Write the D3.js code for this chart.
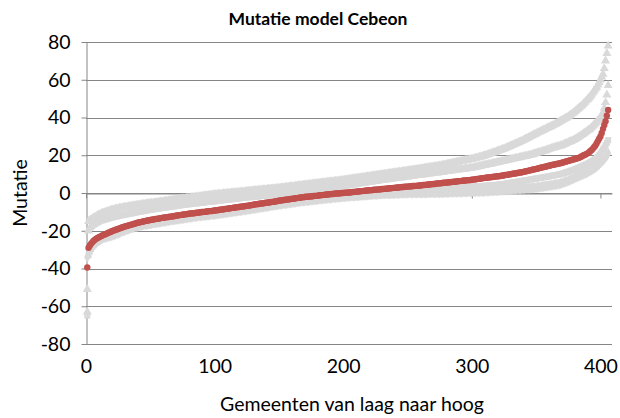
<!DOCTYPE html>
<html><head><meta charset="utf-8">
<script src="https://cdn.jsdelivr.net/npm/d3@7/dist/d3.min.js"></script>
<style>
body{margin:0;background:#fff}
svg{display:block}
text{font-family:Lato,"Open Sans",sans-serif;fill:#000}
</style>
</head><body>
<svg id="chart" width="620" height="418"></svg>
<script>
const chartTitle = "Mutatie model Cebeon";
const xTitle = "Gemeenten van laag naar hoog";
const yTitle = "Mutatie";
const xTicks = [0, 100, 200, 300, 400];
const yTicks = [-80, -60, -40, -20, 0, 20, 40, 60, 80];

// Mutatie model Cebeon (red), municipalities sorted from low to high
const mutatie = [
-39.5,-29.0,-27.8,-26.8,-26.0,-25.3,-24.7,-24.2,-23.8,-23.4,
-23.1,-22.8,-22.4,-22.1,-21.8,-21.5,-21.2,-20.9,-20.6,-20.3,
-20.0,-19.8,-19.5,-19.3,-19.0,-18.8,-18.5,-18.3,-18.0,-17.8,
-17.6,-17.4,-17.2,-17.0,-16.8,-16.6,-16.4,-16.2,-16.0,-15.8,
-15.6,-15.5,-15.3,-15.2,-15.0,-14.9,-14.7,-14.6,-14.4,-14.3,
-14.2,-14.1,-13.9,-13.8,-13.7,-13.6,-13.5,-13.3,-13.2,-13.1,
-13.0,-12.9,-12.8,-12.7,-12.6,-12.5,-12.4,-12.3,-12.2,-12.0,
-11.9,-11.8,-11.7,-11.6,-11.5,-11.4,-11.3,-11.2,-11.1,-11.0,
-10.9,-10.8,-10.7,-10.7,-10.6,-10.5,-10.4,-10.3,-10.2,-10.1,
-10.1,-10.0,-9.9,-9.8,-9.7,-9.6,-9.6,-9.5,-9.4,-9.3,
-9.2,-9.1,-9.0,-8.9,-8.8,-8.7,-8.6,-8.5,-8.4,-8.3,
-8.2,-8.1,-8.0,-7.9,-7.8,-7.7,-7.6,-7.5,-7.4,-7.3,
-7.2,-7.1,-7.0,-6.9,-6.8,-6.7,-6.6,-6.5,-6.4,-6.2,
-6.1,-6.0,-5.9,-5.8,-5.7,-5.6,-5.5,-5.4,-5.3,-5.2,
-5.1,-5.0,-4.9,-4.8,-4.7,-4.6,-4.5,-4.4,-4.2,-4.1,
-4.0,-3.9,-3.8,-3.7,-3.6,-3.5,-3.4,-3.3,-3.2,-3.1,
-3.0,-2.9,-2.8,-2.7,-2.6,-2.5,-2.4,-2.3,-2.2,-2.1,
-2.0,-2.0,-1.9,-1.9,-1.8,-1.7,-1.6,-1.5,-1.5,-1.4,
-1.3,-1.2,-1.1,-1.1,-1.0,-0.9,-0.8,-0.8,-0.7,-0.6,
-0.5,-0.5,-0.4,-0.3,-0.3,-0.2,-0.1,-0.1,0.0,0.0,
0.1,0.2,0.2,0.3,0.3,0.4,0.5,0.5,0.6,0.7,
0.8,0.8,0.9,1.0,1.0,1.1,1.2,1.3,1.3,1.4,
1.5,1.5,1.6,1.7,1.7,1.8,1.9,1.9,2.0,2.1,
2.1,2.2,2.3,2.3,2.4,2.5,2.5,2.6,2.7,2.7,
2.8,2.9,2.9,3.0,3.1,3.2,3.2,3.3,3.4,3.4,
3.5,3.5,3.6,3.7,3.7,3.8,3.8,3.9,4.0,4.0,
4.1,4.2,4.2,4.3,4.4,4.5,4.5,4.6,4.7,4.8,
4.8,4.9,5.0,5.1,5.1,5.2,5.3,5.4,5.4,5.5,
5.6,5.7,5.7,5.8,5.9,6.0,6.0,6.1,6.2,6.3,
6.3,6.4,6.5,6.6,6.6,6.7,6.8,6.8,6.9,7.0,
7.1,7.2,7.3,7.4,7.5,7.6,7.7,7.8,7.9,8.0,
8.1,8.2,8.2,8.3,8.4,8.5,8.6,8.7,8.8,8.9,
8.9,9.0,9.1,9.2,9.4,9.5,9.6,9.7,9.8,10.0,
10.1,10.2,10.3,10.4,10.5,10.7,10.8,10.9,11.0,11.2,
11.3,11.5,11.6,11.8,12.0,12.1,12.3,12.5,12.6,12.8,
12.9,13.1,13.3,13.5,13.6,13.8,13.9,14.1,14.3,14.5,
14.6,14.8,14.9,15.1,15.2,15.4,15.5,15.7,15.8,16.0,
16.2,16.4,16.6,16.8,17.0,17.2,17.4,17.6,17.8,18.0,
18.2,18.4,18.6,18.9,19.2,19.6,20.0,20.3,20.6,21.0,
21.5,22.1,22.7,23.4,24.2,25.0,26.2,27.5,28.8,30.0,
31.8,34.0,36.0,38.0,41.0,44.0
];

// grey comparison series (each sorted low to high)
const grey1 = [
-63.0,-15.0,-14.5,-14.0,-13.5,-13.1,-12.7,-12.3,-11.9,-11.5,
-11.2,-10.9,-10.6,-10.4,-10.2,-9.9,-9.7,-9.5,-9.2,-9.0,
-8.8,-8.7,-8.5,-8.3,-8.2,-8.0,-7.9,-7.8,-7.6,-7.5,
-7.4,-7.3,-7.1,-7.0,-6.9,-6.8,-6.7,-6.6,-6.5,-6.4,
-6.3,-6.2,-6.1,-6.0,-5.9,-5.8,-5.7,-5.6,-5.5,-5.4,
-5.3,-5.3,-5.2,-5.1,-5.0,-4.9,-4.8,-4.7,-4.6,-4.5,
-4.4,-4.3,-4.2,-4.1,-4.0,-3.9,-3.8,-3.7,-3.6,-3.5,
-3.4,-3.3,-3.2,-3.1,-3.0,-3.0,-2.9,-2.8,-2.7,-2.6,
-2.5,-2.4,-2.3,-2.2,-2.1,-2.0,-2.0,-1.9,-1.8,-1.7,
-1.6,-1.5,-1.4,-1.3,-1.2,-1.2,-1.1,-1.0,-0.9,-0.8,
-0.7,-0.7,-0.6,-0.5,-0.5,-0.4,-0.3,-0.3,-0.2,-0.1,
-0.1,0.0,0.1,0.1,0.2,0.3,0.3,0.4,0.5,0.5,
0.6,0.7,0.7,0.8,0.9,1.0,1.0,1.1,1.2,1.3,
1.3,1.4,1.5,1.5,1.6,1.7,1.7,1.8,1.9,1.9,
2.0,2.1,2.1,2.2,2.3,2.3,2.4,2.5,2.5,2.6,
2.7,2.8,2.9,2.9,3.0,3.1,3.2,3.3,3.4,3.5,
3.5,3.6,3.7,3.8,3.9,4.0,4.0,4.1,4.2,4.3,
4.4,4.5,4.5,4.6,4.7,4.8,4.9,5.0,5.0,5.1,
5.2,5.3,5.4,5.5,5.5,5.6,5.7,5.8,5.9,6.0,
6.0,6.1,6.2,6.3,6.4,6.4,6.5,6.6,6.7,6.8,
6.9,7.0,7.1,7.2,7.3,7.4,7.5,7.6,7.7,7.8,
7.9,8.0,8.1,8.2,8.3,8.4,8.5,8.6,8.7,8.8,
8.9,9.0,9.1,9.2,9.3,9.4,9.5,9.6,9.7,9.8,
9.9,10.0,10.1,10.2,10.3,10.4,10.5,10.6,10.7,10.8,
10.9,11.0,11.1,11.2,11.3,11.4,11.5,11.6,11.7,11.8,
11.9,12.0,12.1,12.2,12.3,12.4,12.5,12.6,12.7,12.8,
12.9,13.0,13.2,13.3,13.4,13.5,13.6,13.7,13.8,13.9,
14.0,14.1,14.2,14.3,14.4,14.6,14.7,14.8,15.0,15.1,
15.3,15.4,15.6,15.7,15.8,16.0,16.1,16.3,16.4,16.6,
16.7,16.8,17.0,17.1,17.3,17.4,17.6,17.7,17.8,18.0,
18.1,18.3,18.5,18.7,18.8,19.0,19.2,19.4,19.6,19.8,
20.0,20.2,20.5,20.7,21.0,21.2,21.4,21.7,21.9,22.2,
22.4,22.7,22.9,23.2,23.4,23.7,24.0,24.3,24.6,24.9,
25.2,25.5,25.8,26.1,26.4,26.7,27.0,27.3,27.6,28.0,
28.3,28.7,29.0,29.4,29.7,30.1,30.4,30.8,31.1,31.5,
31.8,32.2,32.5,32.8,33.2,33.5,33.8,34.2,34.5,34.8,
35.2,35.5,35.8,36.2,36.5,36.9,37.3,37.7,38.1,38.5,
38.9,39.3,39.7,40.0,40.5,41.0,41.5,42.0,42.5,43.1,
43.7,44.3,44.9,45.5,46.0,46.7,47.4,48.1,48.9,49.6,
50.3,51.0,52.0,53.0,54.0,55.0,56.0,57.3,58.6,60.0,
61.5,63.0,66.0,70.0,74.0,78.0
];

const grey2 = [
-51.0,-20.0,-18.5,-17.7,-17.0,-16.6,-16.2,-15.8,-15.4,-15.0,
-14.8,-14.6,-14.4,-14.2,-14.0,-13.8,-13.6,-13.4,-13.2,-13.0,
-12.9,-12.7,-12.6,-12.4,-12.3,-12.1,-12.0,-11.9,-11.7,-11.6,
-11.4,-11.3,-11.1,-11.0,-10.9,-10.7,-10.6,-10.5,-10.3,-10.2,
-10.1,-10.0,-9.8,-9.7,-9.6,-9.5,-9.4,-9.2,-9.1,-9.0,
-8.9,-8.8,-8.7,-8.6,-8.5,-8.4,-8.3,-8.2,-8.1,-8.0,
-7.9,-7.8,-7.7,-7.6,-7.5,-7.4,-7.3,-7.2,-7.1,-7.0,
-6.9,-6.8,-6.7,-6.6,-6.5,-6.4,-6.3,-6.2,-6.1,-6.1,
-6.0,-5.9,-5.8,-5.8,-5.7,-5.6,-5.5,-5.4,-5.4,-5.3,
-5.2,-5.1,-5.0,-5.0,-4.9,-4.8,-4.7,-4.7,-4.6,-4.5,
-4.4,-4.3,-4.3,-4.2,-4.1,-4.0,-3.9,-3.9,-3.8,-3.7,
-3.6,-3.5,-3.5,-3.4,-3.3,-3.2,-3.1,-3.1,-3.0,-2.9,
-2.8,-2.7,-2.7,-2.6,-2.5,-2.4,-2.4,-2.3,-2.2,-2.2,
-2.1,-2.0,-2.0,-1.9,-1.8,-1.8,-1.7,-1.7,-1.6,-1.5,
-1.5,-1.4,-1.3,-1.3,-1.2,-1.1,-1.1,-1.0,-0.9,-0.9,
-0.8,-0.7,-0.6,-0.5,-0.4,-0.3,-0.2,-0.1,0.0,0.1,
0.2,0.3,0.4,0.5,0.6,0.7,0.8,0.9,1.0,1.1,
1.2,1.3,1.3,1.4,1.5,1.6,1.7,1.8,1.8,1.9,
2.0,2.1,2.2,2.3,2.3,2.4,2.5,2.6,2.7,2.8,
2.8,2.9,3.0,3.1,3.2,3.3,3.3,3.4,3.5,3.6,
3.7,3.8,3.9,4.0,4.1,4.2,4.3,4.5,4.6,4.7,
4.8,4.9,5.0,5.1,5.2,5.3,5.4,5.5,5.6,5.7,
5.8,5.9,6.0,6.1,6.2,6.3,6.4,6.5,6.7,6.8,
6.9,6.9,7.0,7.1,7.2,7.3,7.4,7.5,7.6,7.7,
7.8,7.9,7.9,8.0,8.1,8.2,8.3,8.4,8.5,8.6,
8.7,8.8,8.9,9.0,9.1,9.2,9.3,9.4,9.5,9.5,
9.6,9.7,9.8,9.9,10.0,10.1,10.2,10.3,10.4,10.5,
10.5,10.6,10.7,10.8,10.9,11.0,11.1,11.2,11.3,11.4,
11.5,11.6,11.7,11.8,11.9,12.0,12.1,12.2,12.3,12.4,
12.5,12.6,12.6,12.7,12.8,12.9,13.0,13.1,13.2,13.3,
13.4,13.6,13.7,13.9,14.0,14.2,14.3,14.5,14.6,14.8,
14.9,15.1,15.2,15.3,15.5,15.6,15.8,15.9,16.1,16.2,
16.4,16.5,16.7,16.8,17.0,17.1,17.3,17.5,17.6,17.8,
17.9,18.1,18.2,18.4,18.5,18.7,18.8,19.0,19.1,19.3,
19.4,19.6,19.7,19.9,20.0,20.2,20.4,20.6,20.9,21.1,
21.3,21.5,21.7,21.9,22.1,22.3,22.5,22.7,23.0,23.2,
23.5,23.7,23.9,24.1,24.3,24.5,24.7,24.8,25.0,25.3,
25.6,25.9,26.2,26.5,26.8,27.1,27.4,27.7,28.0,28.4,
28.8,29.2,29.7,30.1,30.6,31.0,31.5,32.0,32.5,33.0,
33.5,34.0,34.7,35.4,36.1,36.8,37.5,38.3,39.1,40.0,
41.2,42.5,45.0,48.0,52.0,57.0
];

const grey3 = [
-65.0,-33.0,-31.0,-29.7,-28.5,-27.8,-27.1,-26.5,-26.0,-25.5,
-25.0,-24.5,-24.2,-23.9,-23.6,-23.3,-23.0,-22.7,-22.5,-22.2,
-21.9,-21.6,-21.3,-21.0,-20.8,-20.5,-20.2,-19.9,-19.6,-19.4,
-19.1,-18.8,-18.6,-18.3,-18.1,-17.9,-17.7,-17.5,-17.3,-17.1,
-16.9,-16.8,-16.6,-16.5,-16.3,-16.2,-16.1,-16.0,-15.9,-15.8,
-15.7,-15.5,-15.4,-15.3,-15.2,-15.1,-15.0,-14.8,-14.7,-14.6,
-14.5,-14.4,-14.3,-14.2,-14.0,-13.9,-13.8,-13.7,-13.6,-13.5,
-13.4,-13.3,-13.2,-13.1,-13.0,-12.9,-12.8,-12.7,-12.6,-12.5,
-12.4,-12.3,-12.2,-12.1,-12.0,-11.9,-11.8,-11.7,-11.7,-11.6,
-11.5,-11.4,-11.3,-11.2,-11.2,-11.1,-11.0,-10.9,-10.9,-10.8,
-10.7,-10.6,-10.5,-10.4,-10.3,-10.2,-10.1,-10.0,-9.9,-9.8,
-9.7,-9.6,-9.5,-9.4,-9.3,-9.2,-9.1,-9.0,-8.9,-8.8,
-8.7,-8.6,-8.5,-8.4,-8.3,-8.2,-8.1,-8.0,-7.9,-7.8,
-7.7,-7.6,-7.5,-7.3,-7.2,-7.1,-7.0,-6.9,-6.8,-6.7,
-6.6,-6.5,-6.4,-6.2,-6.1,-6.0,-5.9,-5.8,-5.7,-5.6,
-5.5,-5.4,-5.3,-5.2,-5.1,-5.0,-4.9,-4.8,-4.7,-4.6,
-4.5,-4.4,-4.3,-4.2,-4.1,-4.0,-3.9,-3.8,-3.7,-3.7,
-3.6,-3.5,-3.4,-3.4,-3.3,-3.2,-3.1,-3.1,-3.0,-2.9,
-2.8,-2.8,-2.7,-2.6,-2.5,-2.5,-2.4,-2.3,-2.2,-2.2,
-2.1,-2.0,-2.0,-1.9,-1.8,-1.8,-1.7,-1.6,-1.6,-1.5,
-1.4,-1.4,-1.3,-1.2,-1.2,-1.1,-1.0,-1.0,-0.9,-0.8,
-0.8,-0.7,-0.6,-0.6,-0.5,-0.4,-0.4,-0.3,-0.2,-0.2,
-0.1,0.0,0.0,0.1,0.2,0.2,0.3,0.3,0.4,0.5,
0.5,0.6,0.6,0.7,0.7,0.8,0.8,0.9,1.0,1.0,
1.1,1.1,1.2,1.2,1.3,1.3,1.4,1.5,1.5,1.6,
1.6,1.7,1.7,1.8,1.8,1.9,1.9,2.0,2.0,2.0,
2.1,2.1,2.2,2.2,2.2,2.3,2.3,2.3,2.4,2.4,
2.4,2.5,2.5,2.5,2.6,2.6,2.6,2.7,2.7,2.7,
2.8,2.8,2.8,2.9,2.9,2.9,3.0,3.0,3.0,3.1,
3.1,3.1,3.2,3.2,3.2,3.3,3.3,3.3,3.3,3.4,
3.4,3.4,3.4,3.5,3.5,3.5,3.6,3.7,3.7,3.8,
3.9,3.9,4.0,4.0,4.1,4.2,4.2,4.3,4.3,4.4,
4.5,4.5,4.6,4.7,4.8,4.9,5.0,5.1,5.2,5.4,
5.5,5.6,5.7,5.8,5.9,6.0,6.1,6.3,6.4,6.5,
6.6,6.7,6.8,6.9,7.1,7.2,7.3,7.4,7.5,7.7,
7.8,7.9,8.0,8.1,8.2,8.4,8.5,8.6,8.7,8.8,
9.0,9.1,9.2,9.4,9.5,9.6,9.7,9.9,10.0,10.2,
10.4,10.6,10.9,11.1,11.3,11.5,11.8,12.0,12.2,12.5,
12.8,13.1,13.4,13.7,14.0,14.3,14.6,14.9,15.2,15.5,
15.9,16.3,16.7,17.1,17.5,18.0,18.6,19.2,20.0,21.0,
22.0,23.0,24.0,25.3,26.6,28.0
];

const grey4 = [
-34.0,-30.0,-29.0,-28.0,-27.0,-26.5,-26.0,-25.5,-25.1,-24.7,
-24.4,-24.1,-23.9,-23.7,-23.5,-23.3,-23.1,-22.9,-22.7,-22.6,
-22.4,-22.1,-21.8,-21.5,-21.3,-21.0,-20.7,-20.4,-20.1,-19.9,
-19.6,-19.3,-19.1,-18.8,-18.6,-18.4,-18.2,-18.0,-17.8,-17.6,
-17.4,-17.3,-17.1,-17.0,-16.8,-16.7,-16.6,-16.5,-16.4,-16.3,
-16.2,-16.0,-15.9,-15.8,-15.7,-15.6,-15.5,-15.3,-15.2,-15.1,
-15.0,-14.9,-14.8,-14.7,-14.5,-14.4,-14.3,-14.2,-14.1,-14.0,
-13.9,-13.8,-13.7,-13.6,-13.5,-13.4,-13.3,-13.2,-13.1,-13.0,
-12.9,-12.8,-12.7,-12.6,-12.5,-12.4,-12.3,-12.2,-12.2,-12.1,
-12.0,-11.9,-11.8,-11.7,-11.7,-11.6,-11.5,-11.4,-11.4,-11.3,
-11.2,-11.1,-11.0,-10.9,-10.8,-10.7,-10.6,-10.5,-10.4,-10.3,
-10.2,-10.1,-10.0,-9.9,-9.8,-9.7,-9.6,-9.5,-9.4,-9.3,
-9.2,-9.1,-9.0,-8.9,-8.8,-8.7,-8.6,-8.5,-8.4,-8.3,
-8.2,-8.1,-8.0,-7.8,-7.7,-7.6,-7.5,-7.4,-7.3,-7.2,
-7.1,-7.0,-6.9,-6.7,-6.6,-6.5,-6.4,-6.3,-6.2,-6.1,
-6.0,-5.9,-5.8,-5.7,-5.6,-5.5,-5.4,-5.3,-5.2,-5.1,
-5.0,-4.9,-4.8,-4.7,-4.6,-4.5,-4.4,-4.3,-4.2,-4.2,
-4.1,-4.0,-3.9,-3.9,-3.8,-3.7,-3.6,-3.6,-3.5,-3.4,
-3.3,-3.3,-3.2,-3.1,-3.0,-3.0,-2.9,-2.8,-2.7,-2.7,
-2.6,-2.5,-2.5,-2.4,-2.3,-2.3,-2.2,-2.1,-2.1,-2.0,
-1.9,-1.9,-1.8,-1.8,-1.7,-1.7,-1.6,-1.6,-1.5,-1.5,
-1.4,-1.4,-1.3,-1.3,-1.2,-1.2,-1.1,-1.1,-1.0,-1.0,
-0.9,-0.9,-0.8,-0.8,-0.7,-0.7,-0.6,-0.6,-0.5,-0.5,
-0.5,-0.4,-0.4,-0.4,-0.4,-0.3,-0.3,-0.3,-0.3,-0.2,
-0.2,-0.2,-0.2,-0.2,-0.1,-0.1,-0.1,-0.1,-0.1,0.0,
0.0,0.0,0.0,0.0,0.0,0.0,0.1,0.1,0.1,0.1,
0.1,0.1,0.1,0.1,0.1,0.2,0.2,0.2,0.2,0.2,
0.2,0.2,0.2,0.2,0.2,0.2,0.2,0.3,0.3,0.3,
0.3,0.3,0.4,0.4,0.4,0.4,0.4,0.5,0.5,0.5,
0.5,0.5,0.6,0.6,0.6,0.6,0.7,0.7,0.7,0.7,
0.7,0.8,0.8,0.8,0.8,0.9,0.9,0.9,0.9,1.0,
1.0,1.0,1.1,1.1,1.1,1.2,1.2,1.2,1.3,1.3,
1.4,1.4,1.5,1.5,1.6,1.6,1.7,1.7,1.8,1.8,
1.9,1.9,2.0,2.0,2.1,2.1,2.2,2.2,2.3,2.3,
2.4,2.4,2.5,2.5,2.6,2.6,2.7,2.7,2.8,2.9,
3.0,3.1,3.2,3.3,3.4,3.5,3.6,3.7,3.8,3.9,
4.0,4.1,4.2,4.4,4.5,4.6,4.7,4.8,5.0,5.2,
5.5,5.7,6.0,6.2,6.5,6.8,7.1,7.4,7.7,8.0,
8.3,8.6,8.9,9.2,9.5,9.8,10.1,10.4,10.7,11.0,
11.4,11.8,12.2,12.6,13.0,13.5,14.0,14.6,15.2,16.0,
16.6,17.2,18.0,18.8,19.8,21.0
];

const greySeries = [
  {name: "grey1", values: grey1, symbol: d3.symbolTriangle},
  {name: "grey2", values: grey2, symbol: d3.symbolTriangle},
  {name: "grey3", values: grey3, symbol: d3.symbolSquare},
  {name: "grey4", values: grey4, symbol: d3.symbolDiamond}
];

const plot = {left: 86, right: 612, top: 42, bottom: 344};
const svg = d3.select("#chart");
const FS = 19.5;

const x = d3.scaleLinear().domain([0, 409]).range([plot.left, plot.right]);
const y = d3.scaleLinear().domain([-80, 80]).range([plot.bottom, plot.top]);

const axisColor = "#868686";
const fmt = d => String(d);   // plain hyphen-minus, as in the original

// gridlines
svg.append("g").selectAll("line").data(yTicks).join("line")
  .attr("x1", plot.left).attr("x2", plot.right)
  .attr("y1", d => Math.round(y(d)) + 0.5).attr("y2", d => Math.round(y(d)) + 0.5)
  .attr("stroke", axisColor).attr("stroke-width", 1);

// y axis
const yAxis = svg.append("g")
  .attr("transform", `translate(${plot.left + 0.5},0)`)
  .call(d3.axisLeft(y).tickValues(yTicks).tickSize(5).tickSizeOuter(0).tickPadding(11).tickFormat(fmt));
yAxis.select(".domain").attr("stroke", axisColor);
yAxis.selectAll(".tick line").attr("stroke", axisColor);
yAxis.selectAll(".tick text").attr("font-size", FS).attr("font-family", "Lato, sans-serif").attr("fill", "#000");

// x axis line at y = 0 with ticks
const xAxis = svg.append("g")
  .attr("transform", `translate(0,${Math.round(y(0)) + 0.5})`)
  .call(d3.axisBottom(x).tickValues(xTicks).tickSize(5).tickSizeOuter(0).tickFormat(""));
xAxis.select(".domain").attr("stroke", axisColor);
xAxis.selectAll(".tick line").attr("stroke", axisColor);

// x tick labels at bottom
const xLab = svg.append("g")
  .attr("transform", `translate(0,${plot.bottom})`)
  .call(d3.axisBottom(x).tickValues(xTicks).tickSize(0).tickPadding(15).tickFormat(fmt));
xLab.select(".domain").remove();
xLab.selectAll(".tick text").attr("font-size", FS).attr("font-family", "Lato, sans-serif").attr("fill", "#000");

// grey series
const greyColor = "#D9D9D9";
greySeries.forEach(s => {
  svg.append("g").selectAll("path").data(s.values).join("path")
    .attr("transform", (d, i) => `translate(${x(i + 1)},${y(d)})`)
    .attr("d", d3.symbol().type(s.symbol).size(36))
    .attr("fill", greyColor);
});

// red series
svg.append("g").selectAll("circle").data(mutatie).join("circle")
  .attr("cx", (d, i) => x(i + 1)).attr("cy", d => y(d))
  .attr("r", 3.2).attr("fill", "#C0504D");

// titles
svg.append("text").attr("x", 318).attr("y", 25).attr("text-anchor", "middle")
  .attr("font-size", 17.5).attr("font-weight", "bold").text(chartTitle);
svg.append("text").attr("x", 352).attr("y", 411).attr("text-anchor", "middle")
  .attr("font-size", FS).text(xTitle);
svg.append("text").attr("transform", `translate(27,${y(0)}) rotate(-90)`)
  .attr("text-anchor", "middle").attr("font-size", FS).text(yTitle);
</script>
</body></html>
